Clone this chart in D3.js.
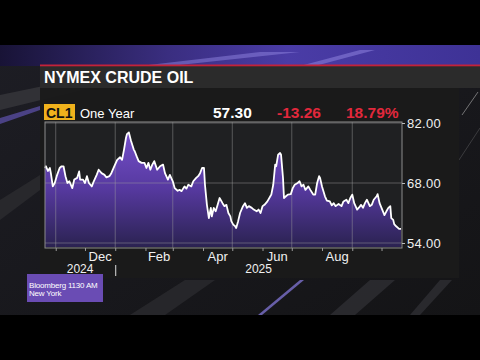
<!DOCTYPE html>
<html><head><meta charset="utf-8">
<script src="https://cdn.jsdelivr.net/npm/d3@7"></script>
<style>html,body{margin:0;padding:0;background:#000;}svg{display:block;}</style>
</head><body>
<svg id="c" width="480" height="360"></svg>
<script>
// ---- data ----
const title = "NYMEX CRUDE OIL";
const ticker = "CL1";
const period = "One Year";
const lastPrice = "57.30";
const netChange = "-13.26";
const pctChange = "18.79%";
const dates = ["2024-10-21","2024-10-22","2024-10-24","2024-10-26","2024-10-27","2024-10-29","2024-10-31","2024-11-02","2024-11-05","2024-11-07","2024-11-09","2024-11-11","2024-11-13","2024-11-15","2024-11-18","2024-11-20","2024-11-23","2024-11-25","2024-11-26","2024-11-29","2024-12-01","2024-12-03","2024-12-05","2024-12-08","2024-12-10","2024-12-13","2024-12-15","2024-12-18","2024-12-21","2024-12-23","2024-12-26","2024-12-28","2024-12-31","2025-01-03","2025-01-06","2025-01-08","2025-01-10","2025-01-12","2025-01-13","2025-01-15","2025-01-17","2025-01-20","2025-01-21","2025-01-23","2025-01-25","2025-01-28","2025-01-31","2025-02-02","2025-02-04","2025-02-06","2025-02-08","2025-02-10","2025-02-13","2025-02-16","2025-02-19","2025-02-21","2025-02-24","2025-02-26","2025-03-01","2025-03-03","2025-03-06","2025-03-08","2025-03-10","2025-03-13","2025-03-15","2025-03-17","2025-03-20","2025-03-22","2025-03-25","2025-03-27","2025-03-29","2025-03-31","2025-04-02","2025-04-03","2025-04-05","2025-04-07","2025-04-09","2025-04-10","2025-04-12","2025-04-14","2025-04-16","2025-04-18","2025-04-21","2025-04-23","2025-04-25","2025-04-27","2025-04-29","2025-04-30","2025-05-02","2025-05-04","2025-05-05","2025-05-07","2025-05-09","2025-05-12","2025-05-14","2025-05-16","2025-05-18","2025-05-21","2025-05-23","2025-05-26","2025-05-28","2025-05-30","2025-06-01","2025-06-03","2025-06-06","2025-06-09","2025-06-10","2025-06-12","2025-06-14","2025-06-15","2025-06-17","2025-06-19","2025-06-20","2025-06-22","2025-06-23","2025-06-25","2025-06-27","2025-06-30","2025-07-02","2025-07-04","2025-07-07","2025-07-09","2025-07-11","2025-07-13","2025-07-15","2025-07-18","2025-07-20","2025-07-23","2025-07-25","2025-07-27","2025-07-29","2025-07-30","2025-08-01","2025-08-04","2025-08-06","2025-08-09","2025-08-11","2025-08-13","2025-08-15","2025-08-18","2025-08-21","2025-08-23","2025-08-26","2025-08-28","2025-08-30","2025-09-01","2025-09-03","2025-09-06","2025-09-08","2025-09-10","2025-09-12","2025-09-14","2025-09-16","2025-09-19","2025-09-21","2025-09-23","2025-09-26","2025-09-27","2025-09-29","2025-10-01","2025-10-04","2025-10-06","2025-10-08","2025-10-10","2025-10-11","2025-10-13","2025-10-14","2025-10-16","2025-10-19","2025-10-21"];
const prices = [71.5,71.9,70.8,71.5,70.3,67.2,68.0,69.6,71.5,71.9,71.9,69.6,68.0,68.4,66.8,68.8,69.2,70.7,68.8,68.8,68.0,69.6,68.0,67.2,68.4,69.9,71.1,70.3,69.9,69.3,69.6,70.3,71.9,73.4,74.0,73.4,75.8,78.5,79.4,79.8,78.0,75.8,75.4,74.2,73.1,72.7,72.7,71.5,72.7,71.1,72.3,73.1,71.1,71.9,72.3,70.3,68.8,69.9,68.4,66.8,66.2,66.4,66.1,67.2,66.7,67.6,67.2,68.4,69.2,69.6,70.3,71.5,71.5,67.6,62.9,59.8,62.2,60.2,62.2,61.4,62.9,64.5,63.3,62.6,62.9,61.0,60.2,59.1,58.3,57.9,57.5,59.1,61.0,62.6,63.3,62.2,62.6,62.2,61.8,61.4,61.8,61.0,62.6,62.9,63.7,64.9,65.3,67.6,72.3,71.9,74.6,75.0,74.6,69.2,64.5,64.9,65.3,65.4,66.8,67.6,68.0,68.4,67.2,67.6,66.4,67.2,66.4,65.3,65.3,68.0,69.6,69.2,67.2,64.9,63.9,63.7,62.8,63.3,62.6,63.1,62.6,63.7,64.1,63.3,64.5,65.3,63.3,61.8,62.3,62.9,62.2,63.3,64.1,62.6,62.9,64.1,64.9,65.4,63.3,62.2,60.5,61.4,62.2,62.6,59.8,59.4,58.4,57.9,57.3,57.3];
const yTicks = [54, 68, 82];
const monthLabels = ["Dec","Feb","Apr","Jun","Aug"];
const yearLabels = ["2024","2025"];
const footerLines = ["Bloomberg 1130 AM","New York"];

// ---- drawing ----
const parse = d3.timeParse("%Y-%m-%d");
const data = dates.map((d,i)=>({date:parse(d), v:prices[i]}));
const svg = d3.select("#c");
const defs = svg.append("defs");

// background
const bg = defs.append("linearGradient").attr("id","bgG").attr("x1","0").attr("y1","0").attr("x2","1").attr("y2","1");
bg.append("stop").attr("offset","0").attr("stop-color","#1d1d24");
bg.append("stop").attr("offset","1").attr("stop-color","#141416");
svg.append("rect").attr("x",0).attr("y",0).attr("width",480).attr("height",360).attr("fill","#000");
svg.append("rect").attr("x",0).attr("y",45).attr("width",480).attr("height",270).attr("fill","url(#bgG)");
const band = defs.append("linearGradient").attr("id","bandG").attr("x1","0").attr("x2","1");
band.append("stop").attr("offset","0").attr("stop-color","#181336");
band.append("stop").attr("offset","0.35").attr("stop-color","#3a2e80");
band.append("stop").attr("offset","0.6").attr("stop-color","#4a3ca6");
band.append("stop").attr("offset","1").attr("stop-color","#3e3296");
svg.append("rect").attr("x",0).attr("y",45).attr("width",480).attr("height",21).attr("fill","url(#bandG)");
// streaks
const streaks = [
  {p:"M0,95 L140,66 L180,66 L0,110 Z", f:"#3a3a3e", o:0.7},
  {p:"M0,118 L40,106 L40,110 L0,124 Z", f:"#6b5bc8", o:0.6},
  {p:"M0,200 L40,175 L40,190 L0,220 Z", f:"#2c2c30", o:0.8},
  {p:"M140,66 L260,52 L300,52 L170,66 Z", f:"#8f84e0", o:0.5},
  {p:"M300,66 L360,50 L375,50 L315,66 Z", f:"#9d92ea", o:0.45},
  {p:"M130,315 L185,280 L215,280 L165,315 Z", f:"#2a2a2e", o:0.8},
  {p:"M258,315 L300,280 L304,280 L262,315 Z", f:"#8a7ee6", o:0.7},
  {p:"M330,315 L370,280 L395,280 L355,315 Z", f:"#2e2e33", o:0.8},
  {p:"M410,315 L440,280 L452,280 L420,315 Z", f:"#2e2e33", o:0.8}
];
svg.append("g").selectAll("path").data(streaks).join("path").attr("d",d=>d.p).attr("fill",d=>d.f).attr("opacity",d=>d.o);
svg.append("line").attr("x1",462).attr("y1",115).attr("x2",478).attr("y2",92).attr("stroke","#bbb").attr("stroke-width",0.8).attr("opacity",0.7);
svg.append("line").attr("x1",459).attr("y1",160).attr("x2",480).attr("y2",128).attr("stroke","#999").attr("stroke-width",0.7).attr("opacity",0.4);

// panel
svg.append("rect").attr("x",40).attr("y",66).attr("width",419).attr("height",212).attr("fill","#1a1a1a").attr("opacity",0.95);
svg.append("rect").attr("x",40).attr("y",66).attr("width",440).attr("height",22).attr("fill","#2b2b2b");
svg.append("rect").attr("x",40).attr("y",64.5).attr("width",440).attr("height",1.8).attr("fill","#c4223a");
svg.append("text").attr("x",44).attr("y",83).text(title)
  .attr("font-family","Liberation Sans, Arial, sans-serif").attr("font-weight","bold").attr("font-size",16).attr("fill","#fff");

// header row
svg.append("rect").attr("x",44).attr("y",104).attr("width",31).attr("height",16).attr("fill","#f0b21c");
svg.append("text").attr("x",46).attr("y",118).text(ticker)
  .attr("font-family","Liberation Sans, Arial, sans-serif").attr("font-weight","bold").attr("font-size",14).attr("fill","#111");
svg.append("text").attr("x",80).attr("y",118).text(period)
  .attr("font-family","Liberation Sans, Arial, sans-serif").attr("font-size",13).attr("fill","#fff");
const hdr = [{t:lastPrice,x:213,c:"#ffffff"},{t:netChange,x:277,c:"#e2283c"},{t:pctChange,x:346,c:"#e2283c"}];
svg.append("g").selectAll("text").data(hdr).join("text").attr("x",d=>d.x).attr("y",118).text(d=>d.t)
  .attr("font-family","Liberation Sans, Arial, sans-serif").attr("font-weight","bold").attr("font-size",15.5).attr("fill",d=>d.c);

// scales
const x = d3.scaleTime().domain([new Date(2024,9,21), new Date(2025,9,22)]).range([45,402]);
const y = d3.scaleLinear().domain([54,82]).range([243,123]);
const plotTop = 122, plotBot = 248;

svg.append("rect").attr("x",45).attr("y",plotTop).attr("width",357).attr("height",plotBot-plotTop).attr("fill","#1f2022");

const fillG = defs.append("linearGradient").attr("id","fillG").attr("gradientUnits","userSpaceOnUse")
  .attr("x1",0).attr("y1",130).attr("x2",0).attr("y2",248);
fillG.append("stop").attr("offset","0").attr("stop-color","#7650cc");
fillG.append("stop").attr("offset","0.5").attr("stop-color","#56399f");
fillG.append("stop").attr("offset","1").attr("stop-color","#2a2250");

const area = d3.area().x(d=>x(d.date)).y0(plotBot-1).y1(d=>y(d.v));
svg.append("path").datum(data).attr("d",area).attr("fill","url(#fillG)");

// gridlines
const g = svg.append("g");
g.selectAll("line.v").data(x.ticks(d3.timeMonth.every(2))).join("line").attr("class","v")
  .attr("x1",d=>x(d)).attr("x2",d=>x(d)).attr("y1",plotTop).attr("y2",plotBot)
  .attr("stroke","#a0a0a0").attr("stroke-opacity",0.45).attr("stroke-width",1);
g.selectAll("line.h").data(yTicks).join("line").attr("class","h")
  .attr("x1",45).attr("x2",402).attr("y1",d=>y(d)).attr("y2",d=>y(d))
  .attr("stroke","#a0a0a0").attr("stroke-opacity",0.45).attr("stroke-width",1);

const line = d3.line().x(d=>x(d.date)).y(d=>y(d.v));
svg.append("path").datum(data).attr("d",line).attr("fill","none").attr("stroke","#ffffff").attr("stroke-width",1.8).attr("stroke-linejoin","round");

svg.append("rect").attr("x",45).attr("y",plotTop).attr("width",357).attr("height",plotBot-plotTop)
  .attr("fill","none").attr("stroke","#8c8c8c").attr("stroke-width",1);

// y axis
const yAxis = d3.axisRight(y).tickValues(yTicks).tickFormat(d3.format(".2f")).tickSize(3).tickPadding(2);
const ya = svg.append("g").attr("transform","translate(402,0)").call(yAxis);
ya.select(".domain").remove();
ya.selectAll("line").attr("stroke","#bbb");
ya.selectAll("text").attr("font-family","Liberation Sans, Arial, sans-serif").attr("font-size",13).attr("fill","#f0f0f0").attr("letter-spacing",0.3);

// x axis ticks
const xAxis = d3.axisBottom(x).ticks(d3.timeMonth.every(1)).tickFormat("").tickSize(3);
const xa = svg.append("g").attr("transform",`translate(0,${plotBot})`).call(xAxis);
xa.select(".domain").remove();
xa.selectAll("line").attr("stroke","#999");

// month labels at mid-month
const monthIdx = {Dec:[2024,11],Feb:[2025,1],Apr:[2025,3],Jun:[2025,5],Aug:[2025,7]};
svg.append("g").selectAll("text").data(monthLabels).join("text")
  .attr("x",d=>{const m=monthIdx[d]; return (x(new Date(m[0],m[1],1))+x(new Date(m[0],m[1]+1,1)))/2;})
  .attr("y",261).attr("text-anchor","middle").text(d=>d)
  .attr("font-family","Liberation Sans, Arial, sans-serif").attr("font-size",13).attr("fill","#f0f0f0");
const yearSpans = [[x.domain()[0], new Date(2025,0,1)],[new Date(2025,0,1), x.domain()[1]]];
svg.append("g").selectAll("text").data(yearLabels).join("text")
  .attr("x",(d,i)=>(x(yearSpans[i][0])+x(yearSpans[i][1]))/2).attr("y",273).attr("text-anchor","middle").text(d=>d)
  .attr("font-family","Liberation Sans, Arial, sans-serif").attr("font-size",12).attr("fill","#f0f0f0");
svg.append("line").attr("x1",x(new Date(2025,0,1))+0.5).attr("x2",x(new Date(2025,0,1))+0.5).attr("y1",265).attr("y2",276)
  .attr("stroke","#ddd").attr("stroke-width",1);

// footer badge
svg.append("rect").attr("x",27).attr("y",274).attr("width",76).attr("height",28).attr("fill","#6a4cb4");
svg.append("g").selectAll("text").data(footerLines).join("text")
  .attr("x",29).attr("y",(d,i)=>287.5+i*8).text(d=>d)
  .attr("font-family","Liberation Sans, Arial, sans-serif").attr("font-size",8).attr("letter-spacing",-0.2).attr("fill","#fff");
</script>
</body></html>
